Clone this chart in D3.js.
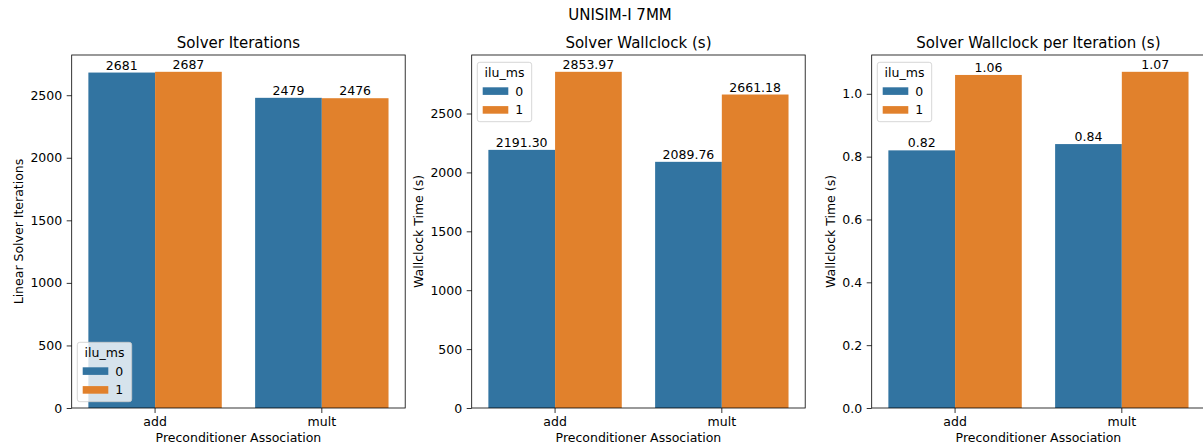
<!DOCTYPE html>
<html>
<head>
<meta charset="utf-8">
<script src="https://cdn.jsdelivr.net/npm/d3@7"></script>
<style>
  html, body { margin: 0; padding: 0; background: #fff; }
  svg text { font-family: "DejaVu Sans", sans-serif; fill: #000; }
</style>
</head>
<body>
<svg id="chart" width="1203" height="447"></svg>
<script>
// Categories and hue levels
const categories = ["add", "mult"];
const hueLevels = ["0", "1"];

// Solver iterations per preconditioner association, per ilu_ms value
const iterations0 = [2681, 2479];
const iterations1 = [2687, 2476];

// Solver wallclock (s)
const wallclock0 = [2191.30, 2089.76];
const wallclock1 = [2853.97, 2661.18];

// Solver wallclock per iteration (s)
const perIter0 = [0.82, 0.84];
const perIter1 = [1.06, 1.07];

// Tick labels for the value axes
const iterTicks = [0, 500, 1000, 1500, 2000, 2500];
const wallTicks = [0, 500, 1000, 1500, 2000, 2500];
const perIterTicks = [0.0, 0.2, 0.4, 0.6, 0.8, 1.0];

const colors = ["#3274a1", "#e1812c"];

const svg = d3.select("#chart");

svg.append("text")
  .attr("x", 620).attr("y", 20)
  .attr("text-anchor", "middle")
  .style("font-size", "15px")
  .text("UNISIM-I 7MM");

const panels = [
  { left: 71.7, title: "Solver Iterations", ylabel: "Linear Solver Iterations",
    s0: iterations0, s1: iterations1, ticks: iterTicks, tickFmt: d3.format("d"),
    labelFmt: d3.format("d"), legend: "lower" },
  { left: 471.7, title: "Solver Wallclock (s)", ylabel: "Wallclock Time (s)",
    s0: wallclock0, s1: wallclock1, ticks: wallTicks, tickFmt: d3.format("d"),
    labelFmt: d3.format(".2f"), legend: "upper" },
  { left: 871.7, title: "Solver Wallclock per Iteration (s)", ylabel: "Wallclock Time (s)",
    s0: perIter0, s1: perIter1, ticks: perIterTicks, tickFmt: d3.format(".1f"),
    labelFmt: d3.format(".2f"), legend: "upper" }
];

const plotW = 333.5, plotTop = 55, plotBottom = 408;
const fs = "12.5px";

panels.forEach(p => {
  const g = svg.append("g").attr("transform", `translate(${p.left},0)`);
  const maxV = d3.max([...p.s0, ...p.s1]);
  const y = d3.scaleLinear().domain([0, maxV * 1.05]).range([plotBottom, plotTop]);
  const x = d3.scaleBand().domain(categories).range([0, plotW])
    .paddingInner(0.2).paddingOuter(0.1);
  const xh = d3.scaleBand().domain(hueLevels).range([0, x.bandwidth()]);

  const rows = [];
  categories.forEach((c, i) => {
    rows.push({ cat: c, hue: "0", v: p.s0[i] });
    rows.push({ cat: c, hue: "1", v: p.s1[i] });
  });

  g.selectAll("rect.bar").data(rows).join("rect")
    .attr("class", "bar")
    .attr("x", d => x(d.cat) + xh(d.hue))
    .attr("width", xh.bandwidth())
    .attr("y", d => y(d.v))
    .attr("height", d => y(0) - y(d.v))
    .attr("fill", d => colors[+d.hue]);

  g.selectAll("text.val").data(rows).join("text")
    .attr("class", "val")
    .attr("x", d => x(d.cat) + xh(d.hue) + xh.bandwidth() / 2)
    .attr("y", d => y(d.v) - 3)
    .attr("text-anchor", "middle")
    .style("font-size", fs)
    .text(d => p.labelFmt(d.v));

  // value axis
  const ya = g.append("g")
    .call(d3.axisLeft(y).tickValues(p.ticks).tickFormat(p.tickFmt)
      .tickSize(5).tickPadding(4.5));
  ya.select(".domain").remove();
  ya.selectAll("line").attr("stroke", "#000").attr("stroke-width", 0.8);
  ya.selectAll("text").style("font-size", fs).style("font-family", "DejaVu Sans");

  // widest tick label sets how far the axis title sits from the axis
  let tickW = 0;
  ya.selectAll("text").each(function () {
    tickW = Math.max(tickW, this.getBBox().width);
  });

  // category axis
  const xa = g.append("g").attr("transform", `translate(0,${plotBottom})`)
    .call(d3.axisBottom(x).tickSize(5).tickPadding(4.5));
  xa.select(".domain").remove();
  xa.selectAll("line").attr("stroke", "#000").attr("stroke-width", 0.8);
  xa.selectAll("text").style("font-size", fs).style("font-family", "DejaVu Sans");

  // frame
  g.append("rect")
    .attr("x", 0).attr("y", plotTop).attr("width", plotW).attr("height", plotBottom - plotTop)
    .attr("fill", "none").attr("stroke", "#000").attr("stroke-width", 0.8);

  g.append("text")
    .attr("x", plotW / 2).attr("y", 48.3)
    .attr("text-anchor", "middle")
    .style("font-size", "15px")
    .text(p.title);

  g.append("text")
    .attr("x", plotW / 2).attr("y", 441.7)
    .attr("text-anchor", "middle")
    .style("font-size", fs)
    .text("Preconditioner Association");

  const ylx = -(tickW + 16.8);
  g.append("text")
    .attr("transform", `translate(${ylx},${(plotTop + plotBottom) / 2}) rotate(-90)`)
    .attr("text-anchor", "middle")
    .style("font-size", fs)
    .text(p.ylabel);

  // legend
  const lx = 5.6;
  const ly = p.legend === "lower" ? 342.3 : 62.3;
  const lg = g.append("g").attr("transform", `translate(${lx},${ly})`);
  lg.append("rect")
    .attr("width", 54.4).attr("height", 59.4).attr("rx", 2.5)
    .attr("fill", "rgba(255,255,255,0.8)")
    .attr("stroke", "#cccccc").attr("stroke-width", 0.8);
  lg.append("text")
    .attr("x", 27.2).attr("y", 14.4)
    .attr("text-anchor", "middle")
    .style("font-size", fs)
    .text("ilu_ms");
  hueLevels.forEach((h, i) => {
    const cy = 28.8 + i * 18.8;
    lg.append("rect")
      .attr("x", 5.4).attr("y", cy - 3.8).attr("width", 25.6).attr("height", 7.6)
      .attr("fill", colors[i]);
    lg.append("text")
      .attr("x", 38).attr("y", cy + 4.5)
      .style("font-size", fs)
      .text(h);
  });
});
</script>
</body>
</html>
